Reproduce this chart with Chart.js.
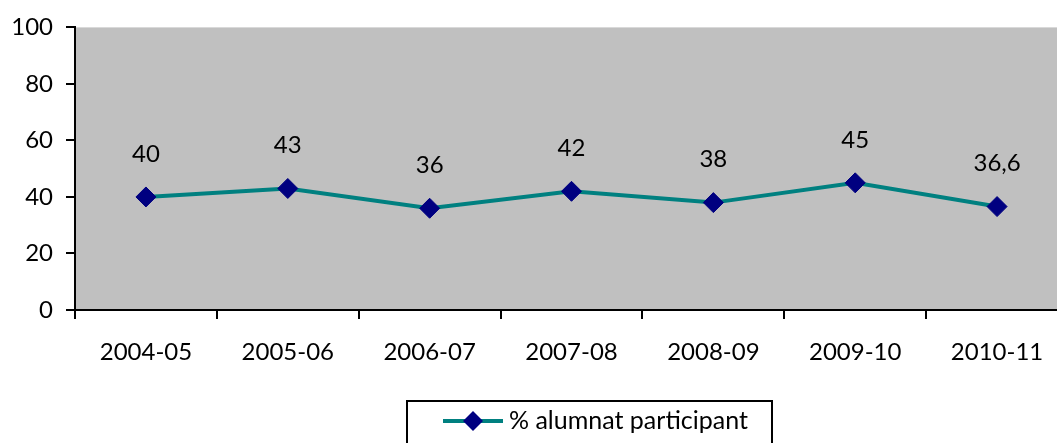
<!DOCTYPE html>
<html>
<head>
<meta charset="utf-8">
<script src="https://cdn.jsdelivr.net/npm/chart.js@4.4.0/dist/chart.umd.min.js"></script>
<style>
  html, body { margin: 0; padding: 0; background: #fff; }
  /* the original picture is cropped at the right: the plot runs past the edge */
  #clip { width: 1057px; height: 443px; overflow: hidden; position: relative; }
  #myChart { display: block; }
</style>
</head>
<body>
<div id="clip"><canvas id="myChart" width="1079" height="443"></canvas></div>
<script>
const cursos = ['2004-05', '2005-06', '2006-07', '2007-08', '2008-09', '2009-10', '2010-11'];
const alumnat = [40, 43, 36, 42, 38, 45, 36.6];
const yTicks = [0, 20, 40, 60, 80, 100];
const serieLabel = '% alumnat participant';

const lineColor = '#008080';
const markerColor = '#000080';
const fontFamily = 'Lato, "Open Sans", sans-serif';

// gray plot area
const plotBg = {
    id: 'plotBg',
    beforeDraw(chart) {
        const { ctx, chartArea } = chart;
        ctx.save();
        ctx.fillStyle = '#c0c0c0';
        ctx.fillRect(chartArea.left, chartArea.top, chartArea.right - chartArea.left, chartArea.bottom - chartArea.top);
        ctx.restore();
    }
};

// value labels above the points
const valueLabels = {
    id: 'valueLabels',
    afterDatasetsDraw(chart) {
        const ctx = chart.ctx;
        const meta = chart.getDatasetMeta(0);
        ctx.save();
        ctx.font = '24px ' + fontFamily;
        ctx.fillStyle = '#000';
        ctx.textAlign = 'center';
        ctx.textBaseline = 'middle';
        meta.data.forEach((pt, i) => {
            const txt = String(chart.data.datasets[0].data[i]).replace('.', ',');
            ctx.fillText(txt, pt.x, pt.y - 43);
        });
        ctx.restore();
    }
};

// boxed legend at the bottom
const boxLegend = {
    id: 'boxLegend',
    afterDraw(chart) {
        const ctx = chart.ctx;
        const ds = chart.data.datasets[0];
        const left = 407, top = 401, w = 365, h = 60;
        const cy = 421;
        ctx.save();
        ctx.strokeStyle = '#000';
        ctx.lineWidth = 2;
        ctx.strokeRect(left, top, w, h);
        ctx.strokeStyle = ds.borderColor;
        ctx.lineWidth = ds.borderWidth;
        ctx.beginPath();
        ctx.moveTo(443, cy);
        ctx.lineTo(503, cy);
        ctx.stroke();
        const r = ds.pointRadius;
        ctx.fillStyle = ds.pointBackgroundColor;
        ctx.beginPath();
        ctx.moveTo(473 - r, cy);
        ctx.lineTo(473, cy - r);
        ctx.lineTo(473 + r, cy);
        ctx.lineTo(473, cy + r);
        ctx.closePath();
        ctx.fill();
        ctx.fillStyle = '#000';
        ctx.font = '25px ' + fontFamily;
        ctx.textAlign = 'left';
        ctx.textBaseline = 'middle';
        ctx.fillText(ds.label, 509, cy);
        ctx.restore();
    }
};

const ctx = document.getElementById('myChart').getContext('2d');
const myChart = new Chart(ctx, {
    type: 'line',
    data: {
        labels: cursos,
        datasets: [{
            label: serieLabel,
            data: alumnat,
            borderColor: lineColor,
            borderWidth: 4,
            pointStyle: 'rectRot',
            pointRadius: 10,
            pointBackgroundColor: markerColor,
            pointBorderColor: markerColor,
            pointBorderWidth: 1,
            tension: 0
        }]
    },
    options: {
        responsive: false,
        animation: false,
        layout: { padding: { top: 26, right: 1, bottom: 73, left: 0 } },
        plugins: {
            legend: { display: false },
            tooltip: { enabled: false }
        },
        scales: {
            x: {
                offset: true,
                grid: { offset: true, drawOnChartArea: false, color: '#000', lineWidth: 2, tickLength: 9 },
                border: { color: '#000', width: 2 },
                ticks: { color: '#000', font: { family: fontFamily, size: 24 }, padding: 19, maxRotation: 0 },
                afterFit: s => { s.height = 60; }
            },
            y: {
                min: 0,
                max: 100,
                afterBuildTicks: s => { s.ticks = yTicks.map(v => ({ value: v })); },
                grid: { drawOnChartArea: false, color: '#000', lineWidth: 2, tickLength: 9 },
                border: { color: '#000', width: 2 },
                ticks: { color: '#000', font: { family: fontFamily, size: 24 }, padding: 13 },
                afterFit: s => { s.width = 75; }
            }
        }
    },
    plugins: [plotBg, valueLabels, boxLegend]
});
</script>
</body>
</html>
